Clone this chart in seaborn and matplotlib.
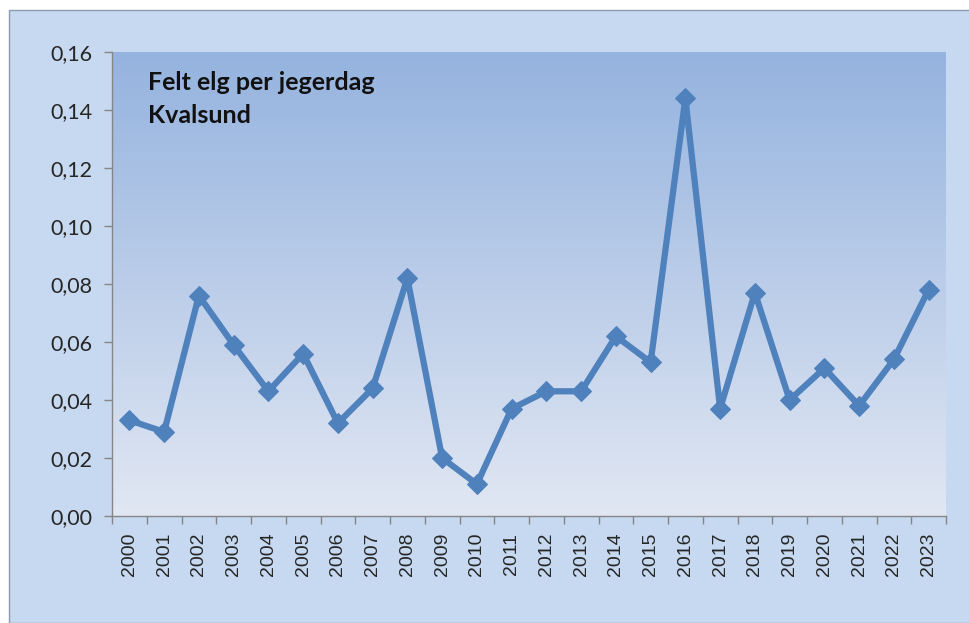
import numpy as np
import pandas as pd
import seaborn as sns
import matplotlib.pyplot as plt
from matplotlib.patches import Rectangle
from matplotlib.colors import LinearSegmentedColormap
from matplotlib.ticker import FixedLocator, FuncFormatter

# ---------------------------
# Data
# ---------------------------

years = [str(y) for y in range(2000, 2024)]
felt_per_dag = [0.033, 0.029, 0.076, 0.059, 0.043, 0.056, 0.032, 0.044,
                0.082, 0.020, 0.011, 0.037, 0.043, 0.043, 0.062, 0.053,
                0.144, 0.037, 0.077, 0.040, 0.051, 0.038, 0.054, 0.078]
y_ticks = [0.00, 0.02, 0.04, 0.06, 0.08, 0.10, 0.12, 0.14, 0.16]
title_text = "Felt elg per jegerdag\nKvalsund"

df = pd.DataFrame({"Year": years, "Value": felt_per_dag})

# ---------------------------
# Style
# ---------------------------

sns.set_theme(style="white")
plt.rcParams["font.family"] = ["Lato", "DejaVu Sans"]

line_color = "#4f81bd"

fig = plt.figure(figsize=(9.7, 6.23), dpi=100)
fig.patch.set_facecolor("white")

# outer chart frame
frame = Rectangle((9 / 970, 0), 1.0, 1 - 10 / 623, transform=fig.transFigure,
                  facecolor="#c6d9f0", edgecolor="#8c9bb0", linewidth=1.0,
                  zorder=-10)
fig.patches.append(frame)

ax = fig.add_axes([112 / 970, 1 - 516 / 623, (946 - 112) / 970, (516 - 52) / 623])
ax.set_facecolor("none")

# gradient plot area
grad = LinearSegmentedColormap.from_list("bg", ["#e1e7f3", "#95b3df"])
ax.imshow(np.linspace(0, 1, 256).reshape(-1, 1), cmap=grad, origin="lower",
          aspect="auto", extent=[0, 1, 0, 1], transform=ax.transAxes, zorder=0)

sns.lineplot(data=df, x="Year", y="Value", ax=ax, color=line_color,
             linewidth=4.5, marker="D", markersize=10,
             markeredgecolor=line_color, zorder=3)

ax.set_xlim(-0.5, len(years) - 0.5)
ax.set_ylim(0, 0.16)
ax.set_xlabel("")
ax.set_ylabel("")

# ---------------------------
# Axes and ticks
# ---------------------------

ax.set_yticks(y_ticks)
ax.yaxis.set_major_formatter(FuncFormatter(lambda v, _: f"{v:.2f}".replace(".", ",")))
ax.set_xticks(range(len(years)))
ax.set_xticklabels(years, rotation=90, fontsize=14,
                   family=["Liberation Sans", "DejaVu Sans"])
ax.xaxis.set_minor_locator(FixedLocator(np.arange(-0.5, len(years), 1.0)))

ax.tick_params(axis="y", which="major", direction="out", length=6, width=1,
               color="#868686", labelsize=15.5, pad=8, left=True)
ax.tick_params(axis="x", which="major", length=0, pad=12, bottom=True)
ax.tick_params(axis="x", which="minor", direction="out", length=6, width=1,
               color="#868686", bottom=True)

for side, spine in ax.spines.items():
    if side in ["left", "bottom"]:
        spine.set_visible(True)
        spine.set_color("#868686")
        spine.set_linewidth(1.0)
    else:
        spine.set_visible(False)

ax.grid(False)

ax.text(0.043, 0.96, title_text, transform=ax.transAxes, fontsize=18,
        fontweight="bold", color="#111111", va="top", ha="left",
        linespacing=1.55, zorder=4)

fig.savefig("out.png", dpi=100)
